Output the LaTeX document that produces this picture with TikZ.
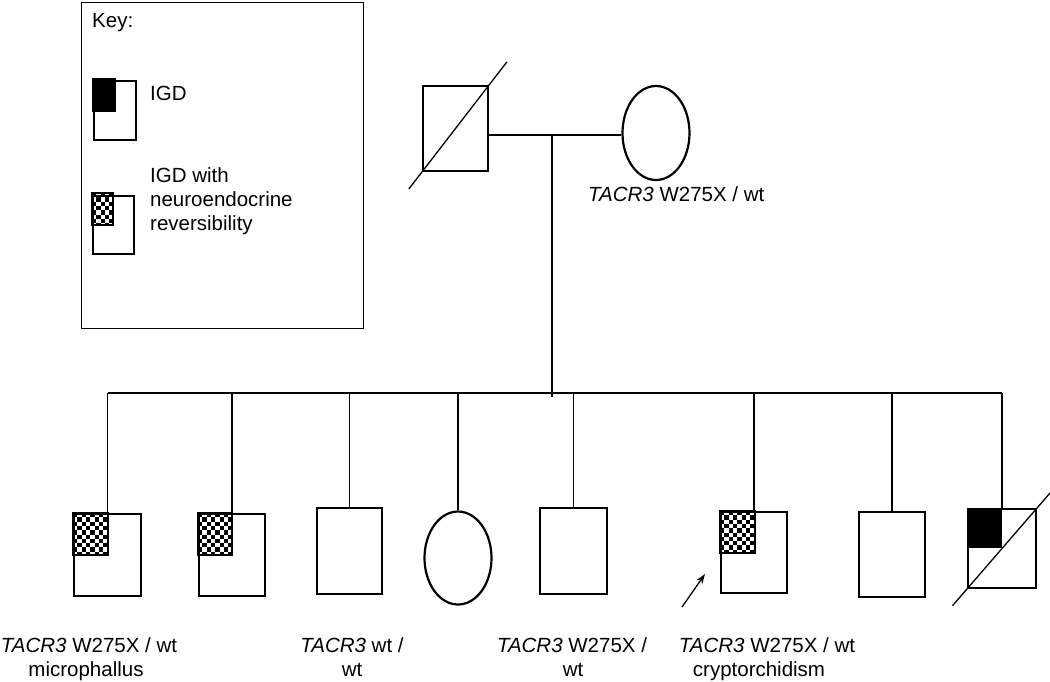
\documentclass[tikz,border=0pt]{standalone}
\usepackage{fontspec}
\setmainfont{Liberation Sans}
\usetikzlibrary{shapes.geometric,calc,arrows.meta}
\newcommand\chkfill[4]{%
  \begin{scope}
    \clip (#1,#2) rectangle (#3,#4);
    \foreach \i in {0,2,...,10}{\foreach \j in {0,2,...,12}{
      \fill[black] ({#1+\i*4.3},{#2+\j*4.3}) rectangle ++(4.3,4.3);
      \fill[black] ({#1+(\i+1)*4.3},{#2+(\j+1)*4.3}) rectangle ++(4.3,4.3);
    }}
  \end{scope}
  \draw[line width=1.2pt] (#1,#2) rectangle (#3,#4);
}
\begin{document}
\begin{tikzpicture}[x=1pt,y=-1pt,
  font=\fontsize{20.5}{24}\selectfont,
  sq/.style={draw, rectangle, line width=2.6pt, inner sep=0pt},
  fem/.style={draw, ellipse, line width=2.2pt, inner sep=0pt},
  thin/.style={line width=1.3pt},
  lab/.style={anchor=base, inner sep=0pt},
  labw/.style={anchor=base west, inner sep=0pt}]
\useasboundingbox (0,0) rectangle (1050,681);
\fill[white] (0,0) rectangle (1050,681);

% key
\node[draw, line width=1.6pt, minimum width=282pt, minimum height=326pt, anchor=north west, inner sep=0pt] (key) at (80.5,1.5) {};
\node[labw] (keyt) at (92,27) {Key:};
\fill[black] (93,79) rectangle (115,111);
\node[sq, minimum width=42pt, minimum height=59pt] (k1) at (115,110.5) {};
\draw[line width=1.2pt] (93,79) rectangle (115,111);
\node[labw] (k1t) at (150,100) {IGD};
\chkfill{92}{193}{113}{225}
\node[sq, minimum width=41pt, minimum height=58pt] (k2) at (113.5,225) {};
\node[labw] (k2a) at (150,182) {IGD with};
\node[labw] (k2b) at (150,206) {neuroendocrine};
\node[labw] (k2c) at (150,230) {reversibility};

% parents
\node[sq, minimum width=65pt, minimum height=85pt] (father) at (455.5,128.5) {};
\draw[thin] ($(father.south west)!-0.19!(father.north east)$) -- ($(father.north east)!-0.26!(father.south west)$);
\node[fem, minimum width=67pt, minimum height=94pt] (mother) at (656,133) {};
\node[labw] (mlab) at (588,201) {\textit{TACR3} W275X / wt};
\coordinate (mline) at (552,135);
\coordinate (drop) at (552,397);
\draw[thin] (father.east |- mline) -- (mother.west |- mline);
\draw[thin] (mline) -- (drop);

% children
\coordinate (sib) at (552,393);
\chkfill{73}{513}{108}{555}
\node[sq, minimum width=67pt, minimum height=82pt] (c1) at (107.5,555) {};
\chkfill{198}{513}{232}{555}
\node[sq, minimum width=66pt, minimum height=82pt] (c2) at (232,555) {};
\node[sq, minimum width=65pt, minimum height=86pt] (c3) at (349.5,551) {};
\node[fem, minimum width=67pt, minimum height=93pt] (c4) at (458,558) {};
\node[sq, minimum width=67pt, minimum height=86pt] (c5) at (573.5,551) {};
\chkfill{720}{511}{755}{553}
\node[sq, minimum width=66pt, minimum height=81pt] (c6) at (754,552.5) {};
\node[sq, minimum width=66pt, minimum height=85pt] (c7) at (892,554.5) {};
\fill[black] (967,508) rectangle (1002,548);
\node[sq, minimum width=68pt, minimum height=79pt] (c8) at (1002,548.5) {};
\draw[thin] ($(c8.south west)!-0.2!(c8.north east)$) -- ($(c8.north east)!-0.18!(c8.south west)$);

\draw[thin] (c1.north |- sib) -- (c8.north |- sib);
\foreach \c in {c1,c2,c3,c4,c5,c6,c7,c8}
  \draw[thin] (\c.north) -- (\c.north |- sib);

% proband arrow
\coordinate (arrS) at (682,607);
\coordinate (arrE) at (705,574);
\draw[thin, -{Stealth[length=10pt,width=7pt]}] (arrS) -- (arrE);

% labels
\node[lab] (l1a) at (89,652) {\textit{TACR3} W275X / wt};
\node[lab] (l1b) at (86,676) {microphallus};
\node[lab] (l3a) at (352,652) {\textit{TACR3} wt /};
\node[lab] (l3b) at (352,676) {wt};
\node[lab] (l5a) at (572,652) {\textit{TACR3} W275X /};
\node[lab] (l5b) at (573,676) {wt};
\node[lab] (l6a) at (767,652) {\textit{TACR3} W275X / wt};
\node[lab] (l6b) at (759,676) {cryptorchidism};
\end{tikzpicture}
\end{document}
